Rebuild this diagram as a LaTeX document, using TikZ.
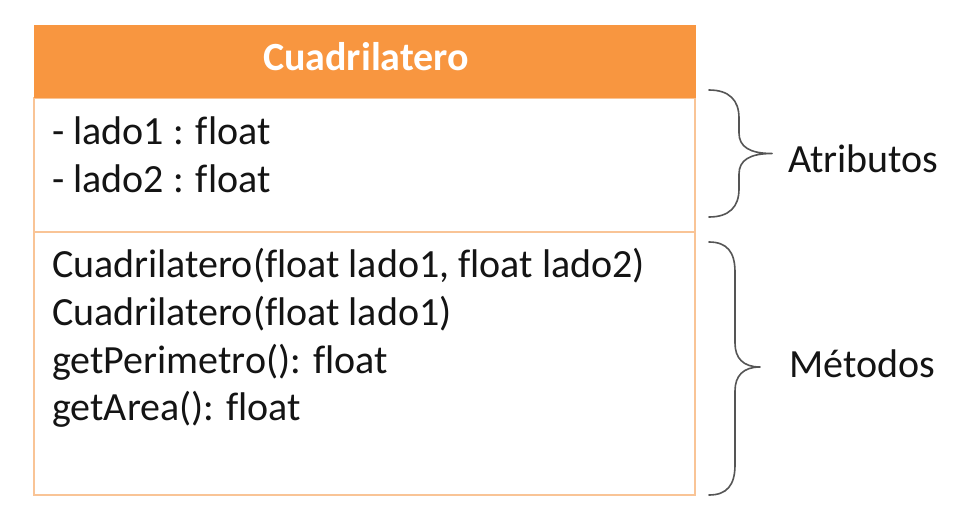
\documentclass[tikz,border=0pt]{standalone}
\usepackage{fontspec}
\setmainfont[Ligatures=NoCommon]{Carlito}
\definecolor{hdr}{RGB}{248,150,64}
\definecolor{bord}{RGB}{249,196,150}
\definecolor{brc}{RGB}{85,85,85}
\definecolor{txt}{RGB}{20,20,20}
\tikzset{
  sect/.style={draw=bord, line width=2pt, fill=white, minimum width=661pt, inner sep=0pt},
  head/.style={draw=hdr, fill=hdr, line width=1pt, minimum width=661pt, inner sep=0pt},
  line/.style={anchor=base west, inner sep=0pt, font=\fontsize{40}{48}\selectfont, text=txt},
  title/.style={anchor=base, inner sep=0pt, font=\fontsize{40}{48}\selectfont\bfseries, text=white},
  curly/.style={draw=brc, line width=1.6pt, line cap=round, line join=round}
}
\begin{document}
\begin{tikzpicture}[x=1pt,y=-1pt]
\useasboundingbox[fill=white] (0,0) rectangle (970,517);
% class box
\node[head, minimum height=73pt] (hd) at (364.5,61.5) {};
\node[sect, minimum height=134pt] (attr) at (364.5,165) {};
\node[sect, minimum height=263pt] (meth) at (364.5,363.5) {};
\node[head, minimum height=72pt] at (364.5,61.5) {};
\node[title] (name) at (366,70) {Cuadrilatero};
% attributes
\node[line] (a1) at (52,144) {- lado1 : float};
\node[line] (a2) at (52,192) {- lado2 : float};
% methods
\node[line] (m1) at (52,277) {Cuadrilatero(float lado1, float lado2)};
\node[line] (m2) at (52,325) {Cuadrilatero(float lado1)};
\node[line] (m3) at (52,373) {getPerimetro(): float};
\node[line] (m4) at (52,420) {getArea(): float};
% braces
\coordinate (b1t) at (709,90);
\coordinate (b1m) at (772,153.5);
\coordinate (b1b) at (709,217);
\draw[curly] (b1t) .. controls (729,90) and (739,100) .. (739,118) -- (739,133)
  .. controls (739,147) and (750,153.5) .. (b1m)
  .. controls (750,153.5) and (739,160) .. (739,174) -- (739,189)
  .. controls (739,207) and (729,217) .. (b1b);
\coordinate (b2t) at (709,242);
\coordinate (b2m) at (760,367);
\coordinate (b2b) at (709,495);
\draw[curly] (b2t) .. controls (727,242) and (735,252) .. (735,272) -- (735,343)
  .. controls (735,358) and (743,367) .. (b2m)
  .. controls (743,367) and (735,376) .. (735,391) -- (735,465)
  .. controls (735,485) and (727,495) .. (b2b);
\node[line] (la) at (788,172) {Atributos};
\node[line] (lm) at (789,377) {Métodos};
\end{tikzpicture}
\end{document}
